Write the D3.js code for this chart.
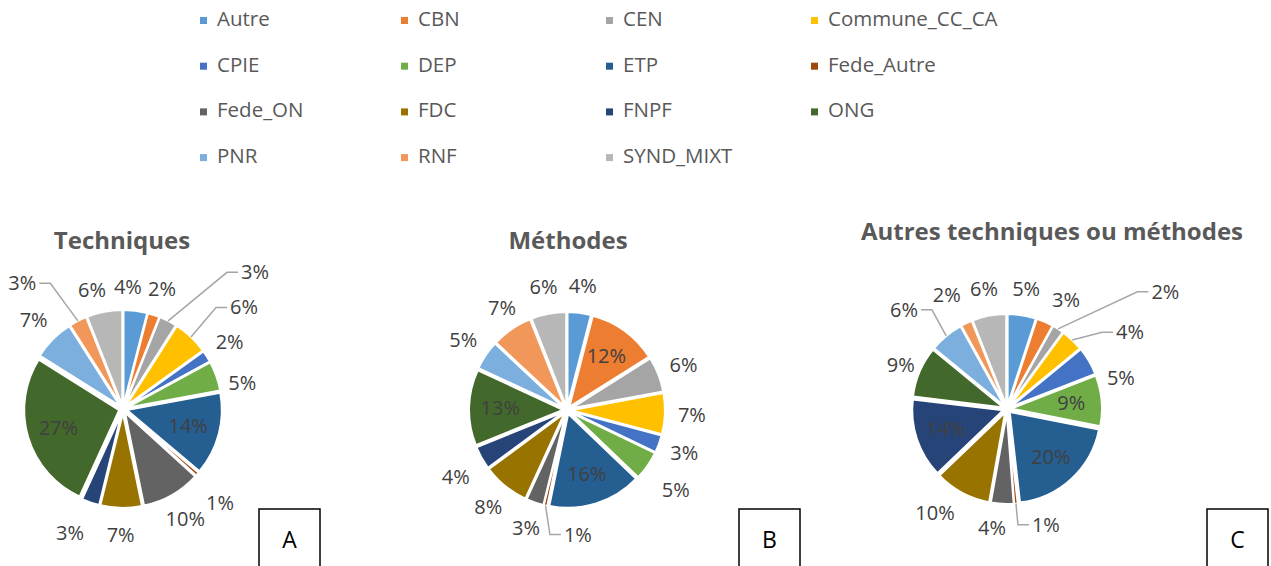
<!DOCTYPE html>
<html>
<head>
<meta charset="utf-8">
<script src="https://cdn.jsdelivr.net/npm/d3@7"></script>
<style>
  body { margin: 0; background: #fff; }
  svg { display: block; font-family: "Open Sans", sans-serif; }
</style>
</head>
<body>
<svg id="chart" width="1271" height="566"></svg>
<script>
// data
const categories = ["Autre", "CBN", "CEN", "Commune_CC_CA", "CPIE", "DEP", "ETP", "Fede_Autre",
                    "Fede_ON", "FDC", "FNPF", "ONG", "PNR", "RNF", "SYND_MIXT"];
const colors = ["#5B9BD5", "#ED7D31", "#A5A5A5", "#FFC000", "#4472C4", "#70AD47", "#255E91", "#9E480E",
                "#636363", "#997300", "#264478", "#43682B", "#7CAFDD", "#F1975A", "#B7B7B7"];
const techniques = [4, 2, 3, 6, 2, 5, 14, 0.6, 10, 7, 3, 27, 7, 3, 6];
const methodes   = [4, 12, 6, 7, 3, 5, 16, 0.6, 3, 8, 4, 13, 5, 7, 6];
const autres     = [5, 3, 2, 4, 5, 9, 20, 0.6, 4, 10, 14, 9, 6, 2, 6];
const titles = ["Techniques", "Méthodes", "Autres techniques ou méthodes"];
const panelLetters = ["A", "B", "C"];

// layout of the three pies
// labelAt: hand-placed labels as [angle in degrees, distance from centre] (like Excel "best fit")
const panels = [
  { values: techniques, cx: 123, cy: 409, r: 95, titleX: 122, titleY: 249, boxX: 259,
    inside: ["ETP", "ONG"],
    leaders: ["CEN", "Commune_CC_CA", "RNF"],
    labelAt: { Autre: [2.3, 122], DEP: [77.7, 122], Fede_Autre: [134.1, 135], FNPF: [203.1, 135],
               SYND_MIXT: [345.4, 123], CEN: [44, 190], Commune_CC_CA: [50, 158], RNF: [-38.7, 161] } },
  { values: methodes, cx: 567, cy: 410, r: 94, titleX: 568, titleY: 249, boxX: 739,
    inside: ["CBN", "ETP", "ONG"],
    leaders: ["Fede_Autre"],
    labelAt: { DEP: [126.3, 135], FNPF: [238.9, 130], RNF: [327.5, 121], Fede_Autre: [175, 125] } },
  { values: autres, cx: 1007, cy: 409, r: 91, titleX: 1052, titleY: 240, boxX: 1207,
    inside: ["DEP", "ETP", "FNPF"],
    leaders: ["CEN", "Commune_CC_CA", "Fede_Autre", "PNR"],
    labelAt: { CBN: [28.4, 124], CPIE: [74.8, 118], Fede_ON: [187.2, 120], FDC: [214.7, 126.5],
               ONG: [292.5, 115], RNF: [332.2, 129],
               CEN: [53.5, 197], Commune_CC_CA: [58, 145], Fede_Autre: [161.4, 122], PNR: [313.9, 143] } }
];

const svg = d3.select("#chart");
const color = d3.scaleOrdinal().domain(categories).range(colors);

// legend
const legend = svg.append("g");
const colX = [217, 418, 623, 828];
categories.forEach((c, i) => {
  const col = i % 4, row = Math.floor(i / 4);
  const x = colX[col], y = 26 + row * 45.7;
  legend.append("rect")
    .attr("x", x - 17).attr("y", y - 9)
    .attr("width", 7).attr("height", 7)
    .attr("fill", color(c));
  legend.append("text")
    .attr("x", x).attr("y", y)
    .attr("font-size", 20.5)
    .attr("fill", "#595959")
    .text(c);
});

const pie = d3.pie().sort(null).value(d => d.value);
const explode = 4;

panels.forEach((p, k) => {
  const g = svg.append("g").attr("transform", `translate(${p.cx},${p.cy})`);
  const data = categories.map((c, i) => ({ name: c, value: p.values[i] }));
  const arcs = pie(data);
  const arc = d3.arc().innerRadius(0).outerRadius(p.r);
  const mid = d => (d.startAngle + d.endAngle) / 2;

  // title
  svg.append("text")
    .attr("x", p.titleX).attr("y", p.titleY)
    .attr("text-anchor", "middle")
    .attr("font-size", 24)
    .attr("font-weight", "bold")
    .attr("fill", "#595959")
    .text(titles[k]);

  // slices, slightly exploded
  g.selectAll("path.slice")
    .data(arcs)
    .join("path")
    .attr("class", "slice")
    .attr("d", arc)
    .attr("transform", d => `translate(${explode * Math.sin(mid(d))},${-explode * Math.cos(mid(d))})`)
    .attr("fill", d => color(d.data.name))
    .attr("stroke", "#fff")
    .attr("stroke-width", 2);

  // labels
  arcs.forEach(d => {
    const a = mid(d);
    const name = d.data.name;
    const label = Math.round(d.data.value) + "%";
    let x, y;
    const at = p.labelAt[name];
    if (at) {
      const la = at[0] * Math.PI / 180;
      x = at[1] * Math.sin(la);
      y = -at[1] * Math.cos(la);
    } else if (p.inside.includes(name)) {
      x = 0.71 * p.r * Math.sin(a);
      y = -0.71 * p.r * Math.cos(a);
    } else {
      x = (p.r + 31) * Math.sin(a);
      y = -(p.r + 31) * Math.cos(a);
    }
    const t = g.append("text")
      .attr("x", x).attr("y", y)
      .attr("dy", "0.35em")
      .attr("text-anchor", "middle")
      .attr("font-size", 20)
      .attr("fill", "#404040")
      .text(label);

    if (p.leaders.includes(name)) {
      const w = t.node().getComputedTextLength();
      const side = x >= 0 ? -1 : 1;
      const edgeX = x + side * w / 2;
      const sx = (p.r + explode) * Math.sin(a), sy = -(p.r + explode) * Math.cos(a);
      g.insert("path", "text")
        .attr("d", d3.line()([[sx, sy], [edgeX + side * 14, y], [edgeX + side * 3, y]]))
        .attr("fill", "none")
        .attr("stroke", "#A6A6A6")
        .attr("stroke-width", 1.5);
    }
  });

  // panel letter box
  svg.append("rect")
    .attr("x", p.boxX).attr("y", 509)
    .attr("width", 61).attr("height", 70)
    .attr("fill", "none")
    .attr("stroke", "#000")
    .attr("stroke-width", 1.5);
  svg.append("text")
    .attr("x", p.boxX + 30.5).attr("y", 548)
    .attr("text-anchor", "middle")
    .attr("font-size", 23)
    .attr("fill", "#000")
    .text(panelLetters[k]);
});
</script>
</body>
</html>
